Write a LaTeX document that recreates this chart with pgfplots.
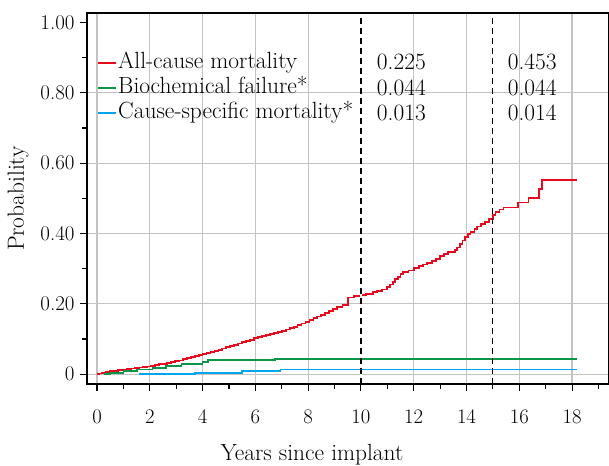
\documentclass[border=0pt]{standalone}
\usepackage{pgfplots}
\pgfplotsset{compat=1.18}
\definecolor{cred}{RGB}{230,10,30}
\definecolor{cgreen}{RGB}{10,150,70}
\definecolor{cblue}{RGB}{0,165,235}
\definecolor{cgrid}{RGB}{195,195,195}
\begin{document}
\begin{tikzpicture}[font=\fontsize{23.5}{27}\selectfont]
\path[use as bounding box] (-87bp,-82bp) rectangle (522bp,384bp);
\begin{axis}[
  at={(0,0)}, anchor=south west,
  scale only axis, width=522bp, height=371bp,
  xmin=-0.38, xmax=19.4, ymin=-0.028, ymax=1.027,
  axis line style={line width=1.3bp},
  tick style={line width=1.1bp, black},
  tick align=outside, xtick pos=bottom, ytick pos=left,
  major tick length=7bp, minor tick length=4.5bp,
  xtick={0,2,...,18}, minor xtick={1,3,...,19},
  ytick={0,0.2,0.4,0.6,0.8}, yticklabels={0,0.20,0.40,0.60,0.80},
  minor ytick={0.1,0.3,0.5,0.7,0.9},
  extra y ticks={1.0}, extra y tick labels={1.00},
  extra y tick style={grid=none},
  tick label style={font=\fontsize{21}{25}\selectfont},
  xmajorgrids, ymajorgrids,
  major grid style={line width=1.2bp, cgrid},
  xticklabel style={yshift=-16bp},
  yticklabel style={xshift=-2bp},
  xlabel={Years since implant}, ylabel={Probability},
  xlabel style={at={(axis description cs:0.431,-0.191)}, anchor=center},
  ylabel style={at={(axis description cs:-0.132,0.5)}, anchor=center, rotate=0},
  legend style={draw=none, fill=none, at={(axis description cs:0.02,0.9)}, anchor=north west,
    inner sep=0pt, row sep=0pt, nodes={inner sep=1bp, text height=17bp, text depth=6bp}},
  legend cell align=left,
  legend image code/.code={\draw[#1, line width=1.6bp] (0bp,0bp) -- (18bp,0bp);},
]
\addplot[cred, line width=1.8bp, const plot] coordinates {
(0,0) (0.08,0.002) (0.2,0.004) (0.35,0.006) (0.5,0.008) (0.65,0.010) (0.8,0.011) (1.0,0.013)
(1.15,0.014) (1.3,0.016) (1.45,0.017) (1.6,0.019) (1.75,0.020) (1.9,0.022) (2.05,0.024) (2.2,0.026)
(2.35,0.028) (2.5,0.030) (2.65,0.032) (2.8,0.034) (2.95,0.037) (3.1,0.039) (3.25,0.042) (3.4,0.045)
(3.55,0.048) (3.7,0.051) (3.85,0.054) (4.0,0.057) (4.15,0.060) (4.3,0.063) (4.45,0.066) (4.6,0.069)
(4.75,0.073) (4.9,0.077) (5.05,0.080) (5.2,0.084) (5.35,0.087) (5.5,0.091) (5.65,0.094) (5.8,0.098)
(5.95,0.102) (6.1,0.105) (6.25,0.108) (6.4,0.111) (6.55,0.114) (6.7,0.117) (6.85,0.120) (7.0,0.123)
(7.15,0.127) (7.3,0.131) (7.45,0.135) (7.6,0.139) (7.75,0.144) (7.9,0.149) (8.05,0.154) (8.2,0.159)
(8.35,0.164) (8.5,0.169) (8.65,0.174) (8.8,0.179) (8.95,0.185) (9.1,0.190) (9.3,0.197) (9.5,0.218)
(9.75,0.222) (10.0,0.226) (10.2,0.229) (10.45,0.233) (10.6,0.236) (10.8,0.241) (11.0,0.248)
(11.1,0.255) (11.2,0.262) (11.3,0.270) (11.4,0.277) (11.5,0.285) (11.6,0.290) (11.8,0.295)
(12.0,0.302) (12.2,0.307) (12.35,0.312) (12.5,0.317) (12.7,0.322) (12.85,0.328) (13.0,0.335)
(13.15,0.342) (13.3,0.348) (13.55,0.352) (13.65,0.360) (13.75,0.370) (13.85,0.380) (13.95,0.390)
(14.05,0.398) (14.15,0.405) (14.3,0.413) (14.4,0.420) (14.55,0.426) (14.7,0.433) (14.85,0.441)
(15.0,0.452) (15.1,0.460) (15.25,0.468) (15.4,0.474) (15.95,0.488) (16.35,0.500) (16.75,0.526)
(16.85,0.552) (18.2,0.552)};
\addlegendentry{All-cause mortality}
\addplot[cgreen, line width=1.8bp, const plot] coordinates {
(0.25,0) (0.5,0.003) (1.0,0.008) (1.5,0.013) (2.1,0.018) (2.6,0.023) (3.2,0.029) (4.0,0.034)
(4.2,0.040) (6.75,0.044) (18.2,0.044)};
\addlegendentry{Biochemical failure*}
\addplot[cblue, line width=1.8bp, const plot] coordinates {
(1.6,0) (3.7,0.004) (5.5,0.008) (6.95,0.013) (18.2,0.013)};
\addlegendentry{Cause-specific mortality*}
\addplot[white, line width=1.6bp, forget plot] coordinates {(10.0,-0.028) (10.0,1.027)};
\addplot[black, line width=1.2bp, dash pattern=on 6bp off 4bp, forget plot, no markers] coordinates {(10.0,-0.028) (10.0,1.027)};
\addplot[black, line width=1.2bp, dash pattern=on 6bp off 4bp, forget plot, no markers] coordinates {(15.0,-0.028) (15.0,1.027)};
\begin{scope}[every node/.style={anchor=west, inner sep=0pt}]
\node at (axis cs:10.6,0.888) {0.225};
\node at (axis cs:10.6,0.814) {0.044};
\node at (axis cs:10.6,0.743) {0.013};
\node at (axis cs:15.56,0.888) {0.453};
\node at (axis cs:15.56,0.814) {0.044};
\node at (axis cs:15.56,0.743) {0.014};
\end{scope}
\end{axis}
\end{tikzpicture}
\end{document}
